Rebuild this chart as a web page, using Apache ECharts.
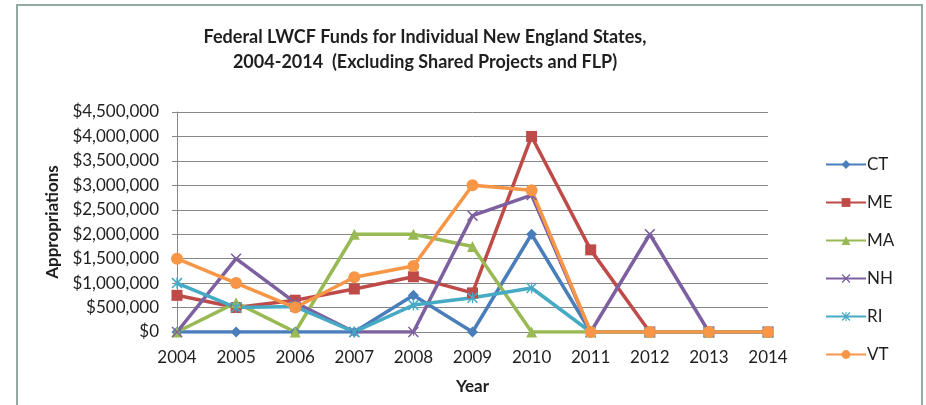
<!DOCTYPE html>
<html>
<head>
<meta charset="utf-8">
<script src="https://cdn.jsdelivr.net/npm/echarts@6/dist/echarts.min.js"></script>
<style>
  html, body { margin: 0; padding: 0; background: #ffffff; }
  #chart { width: 926px; height: 405px; }
</style>
</head>
<body>
<div id="chart"></div>
<script>
const years = ["2004", "2005", "2006", "2007", "2008", "2009", "2010", "2011", "2012", "2013", "2014"];

const ctValues = [0, 0, 0, 0, 750000, 0, 2000000, 0, 0, 0, 0];
const meValues = [750000, 500000, 650000, 880000, 1130000, 800000, 4000000, 1680000, 0, 0, 0];
const maValues = [0, 600000, 0, 2000000, 2000000, 1750000, 0, 0, 0, 0, 0];
const nhValues = [0, 1500000, 600000, 0, 0, 2380000, 2800000, 0, 2000000, 0, 0];
const riValues = [1000000, 500000, 520000, 0, 550000, 700000, 900000, 0, 0, 0, 0];
const vtValues = [1500000, 1000000, 500000, 1120000, 1350000, 3000000, 2900000, 0, 0, 0, 0];

const FONT = "Lato";
const TEXT = "#1f1f1f";
const GRID = "#868686";

const crossPath = "path://M0,1 L1,0 L5,4 L9,0 L10,1 L6,5 L10,9 L9,10 L5,6 L1,10 L0,9 L4,5 Z";
const starPath = "path://M0,1 L1,0 L10,9 L9,10 Z M9,0 L10,1 L1,10 L0,9 Z M4.4,0 L5.6,0 L5.6,10 L4.4,10 Z";

const makeSeries = (name, data, color, symbol, symbolSize) => ({
  name,
  type: "line",
  data,
  symbol,
  symbolSize,
  showAllSymbol: true,
  lineStyle: { color, width: 3.5 },
  itemStyle: { color },
  emphasis: { disabled: true },
});

const chart = echarts.init(document.getElementById("chart"));

chart.setOption({
  animation: false,
  backgroundColor: "#ffffff",
  textStyle: { fontFamily: FONT },
  graphic: [
    {
      type: "rect",
      shape: { x: 17, y: 5, width: 905, height: 420 },
      style: { fill: "none", stroke: "#93aaa2", lineWidth: 2 },
      silent: true,
    },
  ],
  title: {
    text: "Federal LWCF Funds for Individual New England States,\n2004-2014  (Excluding Shared Projects and FLP)",
    left: 420,
    textAlign: "center",
    top: 20,
    textStyle: {
      fontFamily: FONT,
      fontSize: 18,
      fontWeight: "bold",
      color: TEXT,
      lineHeight: 25,
    },
  },
  grid: { left: 177, right: 158, top: 112, bottom: 73 },
  legend: {
    orient: "vertical",
    left: 820,
    top: 151,
    itemWidth: 40,
    itemHeight: 11,
    itemGap: 21,
    textStyle: { fontFamily: FONT, fontSize: 17, color: TEXT, padding: [0, 0, 0, -4] },
    data: ["CT", "ME", "MA", "NH", "RI", "VT"],
  },
  xAxis: {
    type: "category",
    data: years,
    boundaryGap: false,
    name: "Year",
    nameLocation: "middle",
    nameGap: 46,
    nameTextStyle: { fontFamily: FONT, fontSize: 17, fontWeight: "bold", color: TEXT },
    axisLine: { lineStyle: { color: GRID } },
    axisTick: { show: true, length: 4, lineStyle: { color: GRID } },
    axisLabel: { fontFamily: FONT, fontSize: 17, color: TEXT, margin: 17 },
    splitLine: { show: false },
  },
  yAxis: {
    type: "value",
    min: 0,
    max: 4500000,
    interval: 500000,
    name: "Appropriations",
    nameLocation: "middle",
    nameGap: 110,
    nameTextStyle: { fontFamily: FONT, fontSize: 17, fontWeight: "bold", color: TEXT },
    axisLine: { show: true, lineStyle: { color: GRID } },
    axisTick: { show: true, length: 5, lineStyle: { color: GRID } },
    axisLabel: {
      fontFamily: FONT,
      fontSize: 17,
      color: TEXT,
      margin: 18,
      formatter: (v) => "$" + v.toLocaleString("en-US"),
    },
    splitLine: { lineStyle: { color: GRID, width: 1 } },
  },
  series: [
    makeSeries("CT", ctValues, "#4a7ebb", "diamond", 11),
    makeSeries("ME", meValues, "#be4b48", "rect", 11),
    makeSeries("MA", maValues, "#98b954", "triangle", 11),
    makeSeries("NH", nhValues, "#7d60a0", crossPath, 11),
    makeSeries("RI", riValues, "#46aac5", starPath, 11),
    makeSeries("VT", vtValues, "#f79646", "circle", 12),
  ],
});
</script>
</body>
</html>
